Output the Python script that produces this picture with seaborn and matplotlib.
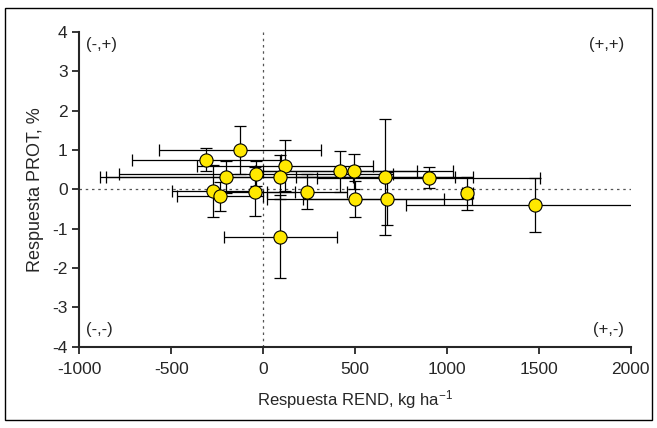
"""
Respuesta PROT vs respuesta REND (quadrant scatter with error bars)
"""
import numpy as np
import pandas as pd
import matplotlib
matplotlib.use("Agg")
import matplotlib.pyplot as plt
import seaborn as sns

# Data
rend = [-309, -127, 117, -200, -40, 92, 417, 493, 660, 900,
        -275, -238, -45, 240, 502, 676, 1110, 1477, 92]
prot = [0.75, 1.00, 0.60, 0.32, 0.40, 0.32, 0.46, 0.46, 0.32, 0.30,
        -0.04, -0.17, -0.06, -0.06, -0.24, -0.24, -0.10, -0.40, -1.20]
rend_err = [404, 440, 479, 690, 745, 950, 420, 540, 480, 608,
            224, 234, 220, 217, 480, 460, 30, 700, 307]
prot_err = [0.29, 0.60, 0.65, 0.41, 0.31, 0.56, 0.52, 0.44, 1.48, 0.27,
            0.66, 0.37, 0.62, 0.44, 0.46, 0.67, 0.42, 0.68, 1.05]

x_ticks = [-1000, -500, 0, 500, 1000, 1500, 2000]
y_ticks = [-4, -3, -2, -1, 0, 1, 2, 3, 4]
quadrants = ["(-,+)", "(+,+)", "(-,-)", "(+,-)"]

df = pd.DataFrame({"rend": rend, "prot": prot,
                   "rend_err": rend_err, "prot_err": prot_err})

sns.set_style("ticks")
plt.rcParams["font.family"] = ["Liberation Sans", "DejaVu Sans"]
plt.rcParams["axes.unicode_minus"] = False
plt.rcParams["mathtext.default"] = "regular"

fig = plt.figure(figsize=(6.57, 4.28), dpi=100)
ax = fig.add_axes([0.121, 0.190, 0.839, 0.735])

# outer frame around the whole figure
fig.patches.append(plt.Rectangle((0.008, 0.019), 0.984, 0.963, transform=fig.transFigure,
                                 fill=False, edgecolor="black", linewidth=1.0))

# reference lines
ax.axhline(0, color="#555555", linestyle=(0, (2, 3)), linewidth=0.9, zorder=1)
ax.axvline(0, color="#555555", linestyle=(0, (2, 3)), linewidth=0.9, zorder=1)

ax.errorbar(df["rend"], df["prot"], xerr=df["rend_err"], yerr=df["prot_err"],
            fmt="none", ecolor="black", elinewidth=0.9, capsize=4.5,
            capthick=0.9, zorder=2)

sns.scatterplot(data=df, x="rend", y="prot", ax=ax, s=90, color="#FFE800",
                edgecolor="black", linewidth=0.8, zorder=3, legend=False)

ax.set_xlim(-1000, 2000)
ax.set_ylim(-4, 4)
ax.set_xticks(x_ticks)
ax.set_yticks(y_ticks)
ax.tick_params(axis="both", labelsize=12.5, length=5, width=1.3, direction="out")
ax.tick_params(axis="x", pad=6)
for side in ["top", "right"]:
    ax.spines[side].set_visible(False)
for side in ["left", "bottom"]:
    ax.spines[side].set_linewidth(1.5)

ax.set_xlabel("Respuesta REND, kg ha$^{-1}$", fontsize=12, labelpad=8)
ax.set_ylabel("Respuesta PROT, %", fontsize=13, labelpad=6)

# quadrant labels
ax.text(0.012, 0.985, quadrants[0], transform=ax.transAxes, ha="left", va="top", fontsize=12)
ax.text(0.988, 0.985, quadrants[1], transform=ax.transAxes, ha="right", va="top", fontsize=12)
ax.text(0.012, 0.03, quadrants[2], transform=ax.transAxes, ha="left", va="bottom", fontsize=12)
ax.text(0.988, 0.03, quadrants[3], transform=ax.transAxes, ha="right", va="bottom", fontsize=12)

plt.savefig("out.png", dpi=100)
plt.close()
